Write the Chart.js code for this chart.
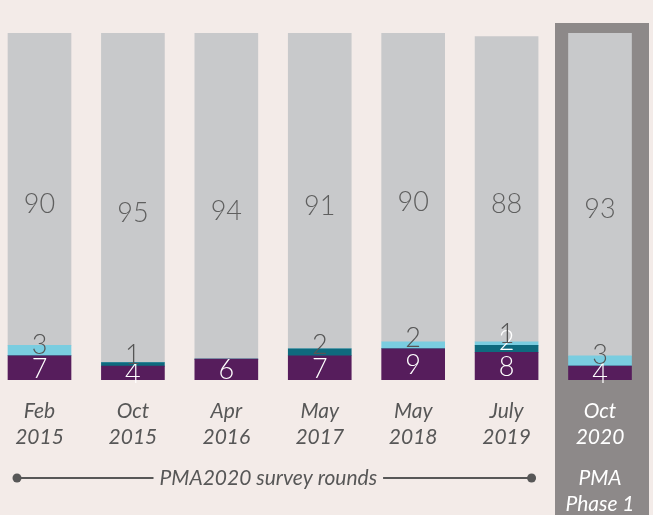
<!DOCTYPE html>
<html>
<head>
<meta charset="utf-8">
<script src="https://cdn.jsdelivr.net/npm/chart.js@4/dist/chart.umd.min.js"></script>
<style>
  html, body { margin: 0; padding: 0; background: #f3ebe8; }
  #chart { display: block; }
</style>
</head>
<body>
<canvas id="chart" width="653" height="515"></canvas>
<script>
// survey rounds, bottom-to-top stack (percent)
const rounds = [['Feb','2015'],['Oct','2015'],['Apr','2016'],['May','2017'],['May','2018'],['July','2019'],['Oct','2020']];
const purpleVals = [7, 4, 6, 7, 9, 8, 4];
const tealVals   = [0, 1, 0, 2, 0, 2, 0];
const cyanVals   = [3, 0, 0, 0, 2, 1, 3];
const greyVals   = [90, 95, 94, 91, 90, 88, 93];
const phaseLabel = ['PMA', 'Phase 1'];
const roundsLabel = 'PMA2020 survey rounds';

const TEXT = '#575757';
const PHASE_BOX = '#8d8989';
const numFont = '300 27px Lato, "Open Sans", sans-serif';
const tickFont = 'italic 400 21px Lato, "Open Sans", sans-serif';

const clipTB = {left: false, right: false, top: 0, bottom: 0};

function ds(data, color, labelColor, where){
    return {data, backgroundColor: color, labelColor, labelWhere: where, clip: clipTB, barThickness: 63};
}

const decor = {
    id: 'decor',
    beforeDatasetsDraw(chart){
        const {ctx, chartArea, scales:{x}} = chart;
        const cx = x.getPixelForValue(rounds.length - 1);
        ctx.save();
        ctx.fillStyle = PHASE_BOX;
        ctx.fillRect(cx - 45, chartArea.top - 10, 94, chart.height - chartArea.top + 10);
        ctx.restore();
    },
    afterDatasetsDraw(chart){
        const {ctx, scales:{x, y}} = chart;
        const last = rounds.length - 1;
        ctx.save();
        ctx.textAlign = 'center';

        // value labels inside each segment
        chart.data.datasets.forEach((d, di) => {
            const meta = chart.getDatasetMeta(di);
            meta.data.forEach((bar, i) => {
                const v = d.data[i];
                if(!v) return;
                const top = bar.y, bottom = bar.base;
                let color = d.labelColor;
                if(di === 1 && cyanVals[i] > 0) color = '#ffffff';
                ctx.fillStyle = color;
                ctx.font = numFont;
                if(d.labelWhere === 'mid'){
                    ctx.textBaseline = 'middle';
                    ctx.fillText(v, bar.x, (top + bottom) / 2 + 1);
                } else if(d.labelWhere === 'top'){
                    ctx.textBaseline = 'middle';
                    ctx.fillText(v, bar.x, (Math.max(top, y.top) + bottom) / 2 + 15);
                } else {
                    ctx.textBaseline = 'alphabetic';
                    ctx.fillText(v, bar.x, bottom - 2);
                }
            });
        });

        // category labels
        ctx.font = tickFont;
        ctx.textBaseline = 'middle';
        rounds.forEach((r, i) => {
            const px = x.getPixelForValue(i);
            ctx.fillStyle = i === last ? '#ffffff' : TEXT;
            ctx.fillText(r[0], px, 411);
            ctx.fillText(r[1], px, 437);
        });

        // PMA2020 bracket line
        const lx = x.getPixelForValue(0) - 22.5;
        const rx = x.getPixelForValue(last - 1) + 25;
        const ly = 478;
        const mid = (lx + rx) / 2 - 6;
        const tw = ctx.measureText(roundsLabel).width;
        ctx.fillStyle = TEXT;
        ctx.fillText(roundsLabel, mid, ly);
        ctx.strokeStyle = TEXT;
        ctx.lineWidth = 2;
        ctx.beginPath();
        ctx.moveTo(lx, ly); ctx.lineTo(mid - tw / 2 - 6, ly);
        ctx.moveTo(mid + tw / 2 + 6, ly); ctx.lineTo(rx, ly);
        ctx.stroke();
        [lx, rx].forEach(px => {
            ctx.beginPath();
            ctx.arc(px, ly, 4.5, 0, Math.PI * 2);
            ctx.fill();
        });

        const px = x.getPixelForValue(last);
        ctx.fillStyle = '#ffffff';
        ctx.fillText(phaseLabel[0], px, 478);
        ctx.fillText(phaseLabel[1], px, 504);
        ctx.restore();
    }
};

new Chart(document.getElementById('chart'), {
    type: 'bar',
    data: {
        labels: rounds.map(r => r.join(' ')),
        datasets: [
            ds(purpleVals, '#561d5c', '#ffffff', 'mid'),
            ds(tealVals, '#0e6a7e', '#555555', 'low'),
            ds(cyanVals, '#7acde0', '#555555', 'low'),
            ds(greyVals, '#c8c9cb', '#5f5f5f', 'top')
        ]
    },
    options: {
        responsive: false,
        animation: false,
        devicePixelRatio: 1,
        layout: {padding: {top: 33, bottom: 135, left: 39.5, right: 53}},
        plugins: {legend: {display: false}, tooltip: {enabled: false}},
        scales: {
            x: {type: 'category', stacked: true, offset: false, display: false},
            y: {stacked: true, min: 0, max: 100, display: false}
        }
    },
    plugins: [decor]
});
</script>
</body>
</html>
